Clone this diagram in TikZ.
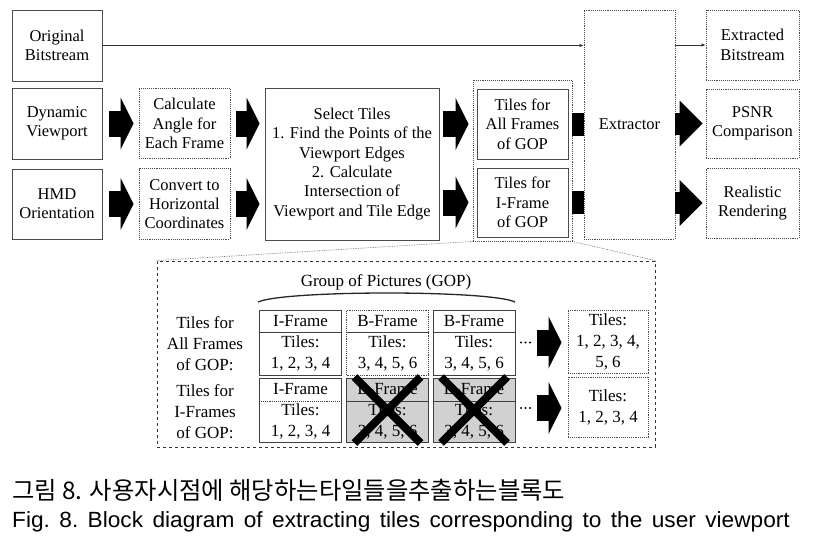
\documentclass[tikz,border=0pt]{standalone}
\usepackage{fontspec}
\setmainfont{Liberation Serif}
\newfontfamily\krfont{Noto Sans CJK KR}
\newfontfamily\capfont{Liberation Sans}
\usetikzlibrary{arrows.meta}
\newcommand\myupfont{\fontsize{16.5}{19.3}\selectfont}
\newcommand\mylowfont{\fontsize{17}{21}\selectfont}
\begin{document}
\begin{tikzpicture}[x=1pt,y=-1pt,
  box/.style={draw=black!70, line width=0.9pt, fill=white, inner sep=2pt, align=center, font=\myupfont},
  dbox/.style={box, densely dotted},
  blk/.style={line width=26pt, -{Triangle[length=13pt 0 0,width=52pt 0 0,line width=0pt 0 0]}},
  blkb/.style={line width=22pt, -{Triangle[length=23pt 0 0,width=46pt 0 0,line width=0pt 0 0]}},
  bar/.style={line width=23pt},
  thinarrow/.style={draw=black!80, line width=0.8pt, -{Latex[length=4pt,width=3.5pt]}},
  zoomline/.style={draw=black!55, line width=0.7pt, densely dotted},
  cell/.style={draw=black!75, line width=0.9pt, minimum width=82pt, inner sep=0pt},
  divider/.style={draw=black!75, line width=0.9pt},
  ctext/.style={font=\mylowfont, align=center, inner sep=0pt},
  xmark/.style={line width=8pt, black},
  rbox/.style={draw=black!70, line width=0.9pt, densely dotted, align=center, font=\mylowfont, inner sep=1pt, minimum width=80pt}
]
\useasboundingbox (0,0) rectangle (818,535);

% ---------- top block diagram ----------
\node[box, minimum width=90pt, minimum height=71pt] (orig) at (57,45.5) {Original\\Bitstream};
\node[box, minimum width=90pt, minimum height=71pt] (dyn) at (57,123.5) {Dynamic\\Viewport};
\node[box, minimum width=90pt, minimum height=70pt] (hmd) at (57,204) {HMD\\Orientation};
\node[dbox, minimum width=91pt, minimum height=70pt] (calc) at (184.5,123.5) {Calculate\\Angle for\\Each Frame};
\node[dbox, minimum width=91pt, minimum height=71pt] (conv) at (184.5,204) {Convert to\\Horizontal\\Coordinates};
\node[box, minimum width=174pt, minimum height=152pt] (sel) at (352,164) {Select Tiles\\1. Find the Points of the\\Viewport Edges\\2. Calculate\\Intersection of\\Viewport and Tile Edge};
\node[dbox, minimum width=99pt, minimum height=161pt] (tbox) at (522.5,160.5) {};
\node[box, minimum width=91pt, minimum height=70pt] (tall) at (522.5,124) {Tiles for\\All Frames\\of GOP};
\node[box, minimum width=91pt, minimum height=69pt] (tif) at (522.5,202.5) {Tiles for\\I-Frame\\of GOP};

% bars running behind the extractor
\draw[bar] (tall.east -| tbox.east) -- (tall.east -| 584,0);
\draw[bar] (tif.east -| tbox.east) -- (tif.east -| 584,0);

\node[dbox, minimum width=91pt, minimum height=229pt] (ext) at (629.5,124.5) {Extractor};
\node[dbox, minimum width=93pt, minimum height=70pt] (extb) at (752.5,45) {Extracted\\Bitstream};
\node[dbox, minimum width=93pt, minimum height=69pt] (psnr) at (752.5,123.5) {PSNR\\Comparison};
\node[dbox, minimum width=93pt, minimum height=70pt] (real) at (752.5,203) {Realistic\\Rendering};

\draw[thinarrow] (orig.east) -- (orig.east -| ext.west);
\draw[thinarrow] (extb.west -| ext.east) -- (extb.west);

\draw[blk, shorten <=7pt, shorten >=5pt] (dyn.east) -- (calc.west);
\draw[blk, shorten <=7pt, shorten >=5pt] (hmd.east) -- (conv.west);
\draw[blk, shorten <=6pt, shorten >=5pt] (calc.east) -- (calc.east -| sel.west);
\draw[blk, shorten <=6pt, shorten >=5pt] (conv.east) -- (conv.east -| sel.west);
\draw[blk, shorten <=4pt, shorten >=8pt] (tall.west -| sel.east) -- (tall.west);
\draw[blk, shorten <=4pt, shorten >=8pt] (tif.west -| sel.east) -- (tif.west);
\draw[blkb, shorten >=3pt] (psnr.west -| ext.east) -- (psnr.west);
\draw[blkb, shorten >=3pt] (real.west -| ext.east) -- (real.west);

% ---------- lower detail ----------
\node[draw=black!80, line width=0.8pt, dashed, minimum width=498pt, minimum height=186pt, inner sep=0pt] (gop) at (406,354) {};
\draw[zoomline] (tbox.south west) -- (gop.north west);
\draw[zoomline] (tbox.south east) -- (gop.north east);

\node[ctext] (goptitle) at (386,282) {Group of Pictures (GOP)};
\draw[line width=1.3pt, black!85] (258,302) .. controls (285,290) and (490,290) .. (515,302);

\node[ctext] (lab1) at (205,343.5) {Tiles for\\All Frames\\of GOP:};
\node[ctext] (lab2) at (205,412) {Tiles for\\I-Frames\\of GOP:};

% top row cells
\node[cell, minimum height=65pt] (A1) at (300.5,342.5) {};
\node[cell, minimum height=65pt, densely dotted] (A2) at (387.5,342.5) {};
\node[cell, minimum height=65pt] (A3) at (474,342.5) {};
\foreach \c/\h/\b in {A1/I-Frame/{1, 2, 3, 4}, A2/B-Frame/{3, 4, 5, 6}, A3/B-Frame/{3, 4, 5, 6}}{
  \draw[divider] (\c.west |- 0,332) -- (\c.east |- 0,332);
  \node[ctext] (\c h) at (\c.center |- 0,321) {\h};
  \node[ctext] (\c b) at (\c.center |- 0,353.5) {Tiles:\\\b};
}
% bottom row cells
\node[cell, minimum height=64pt] (B1) at (300.5,410) {};
\node[cell, minimum height=64pt, fill=black!18] (B2) at (387.5,410) {};
\node[cell, minimum height=64pt, fill=black!18] (B3) at (474,410) {};
\draw[divider, densely dotted] (B1.west |- 0,401) -- (B1.east |- 0,401);
\draw[divider] (B2.west |- 0,401) -- (B2.east |- 0,401);
\draw[divider] (B3.west |- 0,401) -- (B3.east |- 0,401);
\node[ctext] (B1h) at (B1.center |- 0,389.5) {I-Frame};
\node[ctext] (B1b) at (B1.center |- 0,421.5) {Tiles:\\1, 2, 3, 4};
\node[ctext] (B2h) at (B2.center |- 0,389.5) {B-Frame};
\node[ctext] (B2b) at (B2.center |- 0,421.5) {Tiles:\\3, 4, 5, 6};
\node[ctext] (B3h) at (B3.center |- 0,389.5) {B-Frame};
\node[ctext] (B3b) at (B3.center |- 0,421.5) {Tiles:\\3, 4, 5, 6};
\foreach \c in {B2,B3}{
  \draw[xmark] ([shift={(-33,-33)}]\c.center) -- ([shift={(33,33)}]\c.center);
  \draw[xmark] ([shift={(33,-33)}]\c.center) -- ([shift={(-33,33)}]\c.center);
}

% ellipses and arrows to results
\foreach \x in {521,525.5,530}{
  \fill (\x,342.5) circle (1.1);
  \fill (\x,408) circle (1.1);
}
\coordinate (d1) at (532,342.5);
\coordinate (d2) at (532,408);
\node[rbox, minimum height=63pt] (r1) at (608,341.5) {Tiles:\\1, 2, 3, 4,\\5, 6};
\node[rbox, minimum height=60pt] (r2) at (608,407) {Tiles:\\1, 2, 3, 4};
\draw[blk, shorten <=5pt, shorten >=6pt] (d1) -- (d1 -| r1.west);
\draw[blk, shorten <=5pt, shorten >=6pt] (d2) -- (d2 -| r2.west);

% ---------- caption ----------
\node[anchor=west, inner sep=0pt] (krcap) at (12,490) {\resizebox{553pt}{!}{\krfont 그림 8. 사용자시점에 해당하는타일들을추출하는블록도}};
\node[anchor=base west, inner sep=0pt] (encap) at (12,527) {\scalebox{1.03}[1]{\capfont\fontsize{22}{25}\selectfont\frenchspacing\makebox[755pt][s]{Fig. 8. Block diagram of extracting tiles corresponding to the user viewport}}};
\end{tikzpicture}
\end{document}
